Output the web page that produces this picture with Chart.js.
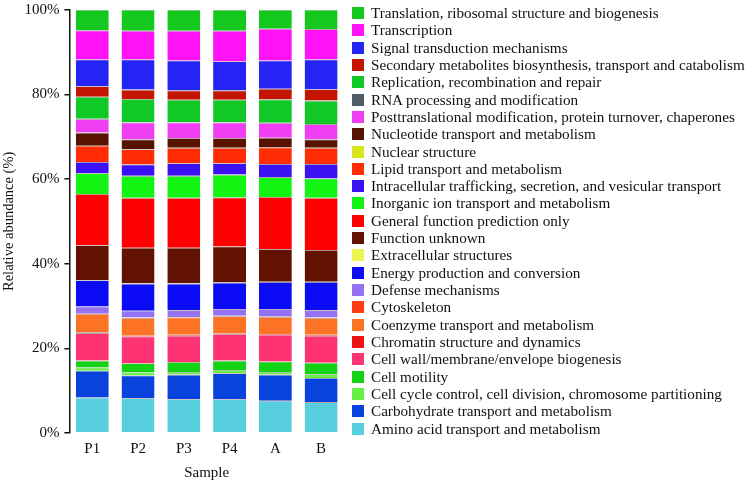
<!DOCTYPE html>
<html lang="en">
<head>
  <meta charset="UTF-8" />
  <title>COG relative abundance</title>
  <style>
    body {
      margin: 0;
      background: #fff;
      font-family: 'Liberation Serif', 'DejaVu Serif', serif;
    }
    .wrap {
      position: relative;
      width: 751px;
      height: 481px;
    }
    canvas {
      display: block;
    }
    #legend {
      position: absolute;
      left: 352px;
      top: 4px;
      margin: 0;
      padding: 0;
      list-style: none;
      font-size: 15.2px;
      color: #111;
    }
    #legend li {
      height: 17.32px;
      line-height: 17.32px;
      white-space: nowrap;
    }
    #legend span {
      display: inline-block;
      width: 12px;
      height: 12px;
      margin-right: 7px;
      vertical-align: -1px;
    }
  </style>
</head>
<body>

  <div class="wrap">
    <canvas id="cogChart" width="751" height="481"></canvas>
    <ul id="legend"></ul>
  </div>

  <script src="https://cdn.jsdelivr.net/npm/chart.js"></script>
  <script>
    // samples on the x axis
    const samples = ['P1', 'P2', 'P3', 'P4', 'A', 'B'];

    // COG categories, stacking order bottom -> top
    const categories = [
      'Amino acid transport and metabolism',
      'Carbohydrate transport and metabolism',
      'Cell cycle control, cell division, chromosome partitioning',
      'Cell motility',
      'Cell wall/membrane/envelope biogenesis',
      'Chromatin structure and dynamics',
      'Coenzyme transport and metabolism',
      'Cytoskeleton',
      'Defense mechanisms',
      'Energy production and conversion',
      'Extracellular structures',
      'Function unknown',
      'General function prediction only',
      'Inorganic ion transport and metabolism',
      'Intracellular trafficking, secretion, and vesicular transport',
      'Lipid transport and metabolism',
      'Nuclear structure',
      'Nucleotide transport and metabolism',
      'Posttranslational modification, protein turnover, chaperones',
      'RNA processing and modification',
      'Replication, recombination and repair',
      'Secondary metabolites biosynthesis, transport and catabolism',
      'Signal transduction mechanisms',
      'Transcription',
      'Translation, ribosomal structure and biogenesis'
    ];

    const colors = [
      '#58cfdf', '#0a42de', '#66f046', '#14d214', '#fd3374',
      '#ee1212', '#fd7325', '#ff3b12', '#9472f2', '#0b0bf5',
      '#ecf550', '#621200', '#ff0000', '#12f512', '#3c12f5',
      '#ff2c04', '#d6e81c', '#581200', '#f03ef2', '#4f5e66',
      '#10c826', '#c31500', '#2424f4', '#ff12f5', '#14c81e'
    ];

    // relative abundance (%) per sample, same order as categories
    const p1 = [8.4, 6.3, 0.8, 1.6, 6.5, 0.2, 4.3, 0.1, 1.7, 6.2, 0.05, 8.2, 12.1, 4.9, 2.7, 3.8, 0.02, 3.1, 3.2, 0.05, 5.2, 2.5, 6.3, 6.9, 4.9];
    const p2 = [8.2, 5.4, 0.7, 2.2, 6.3, 0.2, 4.2, 0.1, 1.6, 6.4, 0.05, 8.4, 11.8, 5.2, 2.7, 3.6, 0.02, 2.3, 4.0, 0.05, 5.5, 2.2, 7.1, 6.8, 5.0];
    const p3 = [8.0, 5.8, 0.6, 2.4, 6.2, 0.2, 4.1, 0.1, 1.6, 6.3, 0.05, 8.4, 11.8, 5.2, 3.0, 3.6, 0.02, 2.3, 3.7, 0.05, 5.3, 2.2, 7.1, 7.0, 5.0];
    const p4 = [8.0, 6.1, 0.8, 2.2, 6.3, 0.1, 4.1, 0.1, 1.6, 6.2, 0.05, 8.5, 11.6, 5.4, 2.7, 3.6, 0.02, 2.3, 3.7, 0.05, 5.3, 2.2, 6.9, 7.2, 5.0];
    const a  = [7.6, 6.2, 0.6, 2.5, 6.3, 0.2, 4.0, 0.1, 1.8, 6.4, 0.05, 7.7, 12.3, 4.7, 3.1, 3.9, 0.02, 2.3, 3.5, 0.05, 5.5, 2.5, 6.7, 7.5, 4.5];
    const b  = [7.3, 5.7, 0.9, 2.7, 6.4, 0.2, 4.0, 0.1, 1.7, 6.7, 0.05, 7.5, 12.3, 4.6, 3.4, 3.8, 0.02, 2.0, 3.6, 0.05, 5.5, 2.7, 7.0, 7.2, 4.6];

    const yTicks = [0, 20, 40, 60, 80, 100];

    const bySample = [p1, p2, p3, p4, a, b];
    const serif = "'Liberation Serif', 'DejaVu Serif', serif";

    const datasets = categories.map((name, i) => ({
      label: name,
      data: bySample.map(s => s[i]),
      backgroundColor: colors[i],
      borderColor: 'rgba(40,0,0,0.35)',
      borderWidth: { top: 0.8, left: 0, right: 0, bottom: 0 },
      borderSkipped: 'start',
      barPercentage: 0.72,
      categoryPercentage: 1.0
    }));

    // legend, top item = top of the stack
    const legend = document.getElementById('legend');
    for (let i = categories.length - 1; i >= 0; i--) {
      const li = document.createElement('li');
      li.innerHTML = '<span style="background:' + colors[i] + '"></span>' + categories[i];
      legend.appendChild(li);
    }

    new Chart(document.getElementById('cogChart'), {
      type: 'bar',
      data: { labels: samples, datasets: datasets },
      options: {
        responsive: false,
        animation: false,
        layout: { padding: { top: 9.7, right: 407, bottom: 0, left: 0 } },
        plugins: {
          legend: { display: false },
          tooltip: { enabled: false }
        },
        scales: {
          x: {
            stacked: true,
            grid: { display: false, drawTicks: false },
            border: { display: false },
            ticks: {
              color: '#111',
              padding: 9,
              font: { family: serif, size: 15, lineHeight: 1 }
            },
            title: {
              display: true,
              text: 'Sample',
              color: '#111',
              padding: { top: 0, bottom: 0 },
              font: { family: serif, size: 15, lineHeight: 1 }
            }
          },
          y: {
            stacked: true,
            min: 0,
            max: 100,
            afterBuildTicks: axis => {
              axis.ticks = yTicks.map(v => ({ value: v }));
            },
            afterFit: axis => {
              axis.paddingTop = 0;
              axis.paddingBottom = 0;
            },
            grid: {
              display: true,
              drawOnChartArea: false,
              drawTicks: true,
              tickLength: 5,
              color: '#111',
              lineWidth: 1.5
            },
            border: { display: true, color: '#111', width: 1.5 },
            ticks: {
              color: '#111',
              padding: 5,
              font: { family: serif, size: 15 },
              callback: v => v + '%'
            },
            title: {
              display: true,
              text: 'Relative abundance (%)',
              color: '#111',
              padding: { top: 0, bottom: 2 },
              font: { family: serif, size: 14.5 }
            }
          }
        }
      }
    });
  </script>

</body>
</html>
